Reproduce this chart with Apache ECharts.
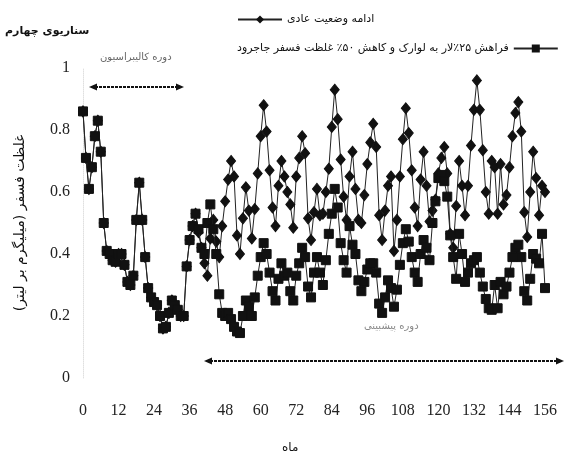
<!DOCTYPE html>
<html>
<head>
<meta charset="utf-8">
<script src="https://cdn.jsdelivr.net/npm/echarts@6/dist/echarts.min.js"></script>
<style>
  html, body { margin: 0; padding: 0; background: #fff; }
  #chart { width: 565px; height: 457px; }
</style>
</head>
<body>
<div id="chart"></div>
<script>
// Phosphorus concentration (mg/L), monthly, scenario 4
var months = [];
for (var m = 0; m <= 156; m++) months.push(m);

// Calibration period (months 0-35): both series share the same values
var calibration = [
  0.86, 0.71, 0.61, 0.68, 0.78, 0.83, 0.73, 0.50, 0.41, 0.40,
  0.38, 0.375, 0.40, 0.40, 0.365, 0.31, 0.30, 0.33, 0.51, 0.63,
  0.51, 0.39, 0.29, 0.26, 0.245, 0.235, 0.20, 0.16, 0.165, 0.21,
  0.25, 0.235, 0.22, 0.20, 0.20, 0.36
];

// Forecast period (months 36-156): business as usual
var baselineForecast = [
  0.445, 0.49, 0.53, 0.47, 0.42, 0.37, 0.33, 0.45, 0.51, 0.44,
  0.39, 0.49, 0.57, 0.64, 0.70, 0.65, 0.46, 0.40, 0.515, 0.615,
  0.54, 0.45, 0.545, 0.66, 0.78, 0.88, 0.795, 0.67, 0.55, 0.49,
  0.62, 0.70, 0.65, 0.60, 0.56, 0.485, 0.65, 0.71, 0.78, 0.725,
  0.515, 0.445, 0.535, 0.61, 0.525, 0.53, 0.60, 0.675, 0.81, 0.93,
  0.835, 0.705, 0.585, 0.51, 0.65, 0.73, 0.61, 0.51, 0.50, 0.59,
  0.69, 0.76, 0.82, 0.745, 0.525, 0.445, 0.54, 0.62, 0.65, 0.41,
  0.51, 0.65, 0.77, 0.87, 0.79, 0.67, 0.55, 0.49, 0.64, 0.73,
  0.62, 0.505, 0.54, 0.575, 0.66, 0.71, 0.745, 0.66, 0.465, 0.42,
  0.555, 0.70, 0.62, 0.525, 0.62, 0.75, 0.865, 0.96, 0.865, 0.735,
  0.60, 0.53, 0.70, 0.68, 0.53, 0.69, 0.56, 0.59, 0.68, 0.78,
  0.855, 0.89, 0.795, 0.535, 0.455, 0.60, 0.73, 0.645, 0.525, 0.62,
  0.60
];

// Forecast period (months 36-156): 25% Lar transfer to Lavarak, 50% less Jajrud phosphorus
var scenarioForecast = [
  0.445, 0.49, 0.53, 0.48, 0.42, 0.40, 0.50, 0.56, 0.48, 0.40,
  0.27, 0.21, 0.20, 0.21, 0.19, 0.165, 0.15, 0.145, 0.20, 0.25,
  0.23, 0.20, 0.26, 0.33, 0.39, 0.435, 0.40, 0.34, 0.28, 0.25,
  0.32, 0.37, 0.33, 0.34, 0.28, 0.25, 0.33, 0.37, 0.42, 0.39,
  0.295, 0.26, 0.34, 0.39, 0.34, 0.30, 0.38, 0.465, 0.53, 0.61,
  0.55, 0.435, 0.38, 0.34, 0.49, 0.43, 0.40, 0.315, 0.28, 0.31,
  0.35, 0.37, 0.37, 0.34, 0.24, 0.21, 0.26, 0.315, 0.29, 0.23,
  0.285, 0.365, 0.435, 0.48, 0.44, 0.39, 0.34, 0.31, 0.40, 0.445,
  0.42, 0.38, 0.50, 0.57, 0.645, 0.655, 0.635, 0.585, 0.46, 0.39,
  0.32, 0.465, 0.40, 0.31, 0.34, 0.37, 0.38, 0.39, 0.34, 0.295,
  0.255, 0.225, 0.22, 0.30, 0.225, 0.31, 0.27, 0.295, 0.34, 0.39,
  0.42, 0.43, 0.39, 0.28, 0.25, 0.32, 0.40, 0.385, 0.37, 0.465,
  0.29
];

var xTicks = [0, 12, 24, 36, 48, 60, 72, 84, 96, 108, 120, 132, 144, 156];
var yTicks = [0, 0.2, 0.4, 0.6, 0.8, 1];

var seriesNames = [
  'ادامه وضعیت عادی',
  'فراهش ۲۵٪لار به لوارک و کاهش ۵۰٪ غلظت فسفر جاجرود'
];

function pairs(values) {
  return values.map(function (v, i) { return [months[i], v]; });
}

var baseline = pairs(calibration.concat(baselineForecast));
var scenario = pairs(calibration.concat(scenarioForecast));

var serif = '"Liberation Serif", "DejaVu Serif", serif';
var persian = '"DejaVu Sans", "Noto Sans", sans-serif';

var chart = echarts.init(document.getElementById('chart'), null, { renderer: 'canvas' });

chart.setOption({
  backgroundColor: '#ffffff',
  animation: false,
  grid: { left: 83, right: 20, top: 68, bottom: 79 },
  legend: [
    {
      data: [seriesNames[0]],
      left: 232, top: 9,
      itemWidth: 44, itemHeight: 10,
      textStyle: { fontFamily: persian, fontSize: 11, color: '#111' }
    },
    {
      data: [seriesNames[1]],
      left: 232, top: 38,
      itemWidth: 44, itemHeight: 10,
      align: 'right',
      textStyle: { fontFamily: persian, fontSize: 11, color: '#111' }
    }
  ],
  xAxis: {
    type: 'value',
    min: xTicks[0], max: xTicks[xTicks.length - 1], interval: 12,
    axisLine: { show: false },
    axisTick: { show: false },
    splitLine: { show: false },
    axisLabel: { margin: 25, fontFamily: serif, fontSize: 16, color: '#222' }
  },
  yAxis: {
    type: 'value',
    min: yTicks[0], max: yTicks[yTicks.length - 1], interval: 0.2,
    name: 'غلظت فسفر (میلیگرم بر لیتر)',
    nameLocation: 'middle',
    nameGap: 56,
    nameTextStyle: { fontFamily: persian, fontSize: 14, color: '#111' },
    axisLine: { show: true, lineStyle: { color: '#e0e0e0', type: 'dotted', width: 1 } },
    axisTick: { show: false },
    splitLine: { show: false },
    axisLabel: { margin: 13, fontFamily: serif, fontSize: 16, color: '#222' }
  },
  series: [
    {
      name: seriesNames[0],
      type: 'line',
      data: baseline,
      symbol: 'diamond',
      symbolSize: [9, 11],
      lineStyle: { color: '#222', width: 1 },
      itemStyle: { color: '#111', borderColor: '#111' },
      z: 2
    },
    {
      name: seriesNames[1],
      type: 'line',
      data: scenario,
      symbol: 'rect',
      symbolSize: 9,
      lineStyle: { color: '#222', width: 1 },
      itemStyle: { color: '#111', borderColor: '#111' },
      z: 3
    }
  ],
  graphic: [
    {
      type: 'text', left: 5, top: 26,
      style: { text: 'سناریوی چهارم', font: 'bold 11px ' + persian, fill: '#111' }
    },
    {
      type: 'text', left: 282, top: 442,
      style: { text: 'ماه', font: '12px ' + persian, fill: '#111' }
    },
    {
      type: 'text', left: 100, top: 52,
      style: { text: 'دوره کالیبراسیون', font: '10px ' + persian, fill: '#666' }
    },
    {
      type: 'text', left: 364, top: 321,
      style: { text: 'دوره پیشبینی', font: '10px ' + persian, fill: '#888' }
    },
    // calibration period arrow
    {
      type: 'group',
      children: [
        { type: 'line', shape: { x1: 95, y1: 87, x2: 178, y2: 87 }, style: { stroke: '#111', lineWidth: 2, lineDash: [3, 1] } },
        { type: 'polygon', shape: { points: [[89, 87], [97, 83.5], [97, 90.5]] }, style: { fill: '#111' } },
        { type: 'polygon', shape: { points: [[184, 87], [176, 83.5], [176, 90.5]] }, style: { fill: '#111' } }
      ]
    },
    // forecast period arrow
    {
      type: 'group',
      children: [
        { type: 'line', shape: { x1: 210, y1: 361, x2: 558, y2: 361 }, style: { stroke: '#111', lineWidth: 2, lineDash: [3, 1] } },
        { type: 'polygon', shape: { points: [[204, 361], [212, 357.5], [212, 364.5]] }, style: { fill: '#111' } },
        { type: 'polygon', shape: { points: [[564, 361], [556, 357.5], [556, 364.5]] }, style: { fill: '#111' } }
      ]
    }
  ]
});
</script>
</body>
</html>
